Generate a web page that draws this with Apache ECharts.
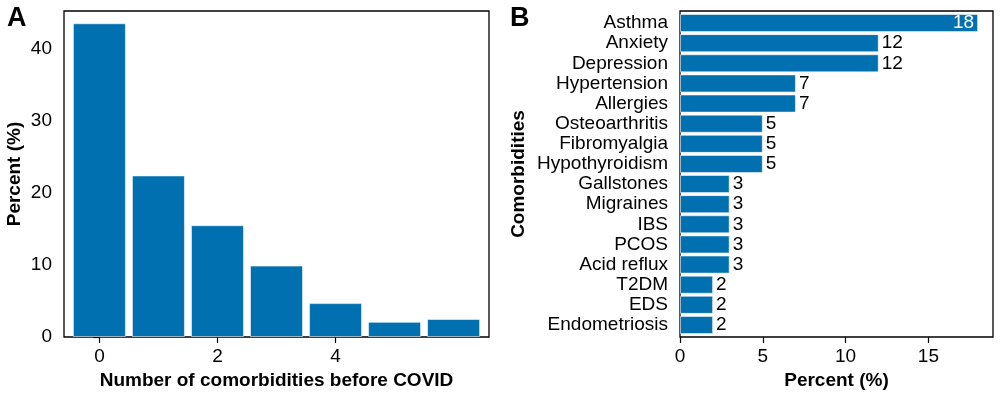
<!DOCTYPE html>
<html>
<head>
<meta charset="utf-8">
<script src="https://cdn.jsdelivr.net/npm/echarts@6/dist/echarts.min.js"></script>
<style>
html, body { margin: 0; padding: 0; background: #fff; }
#main { width: 1000px; height: 398px; }
</style>
</head>
<body>
<div id="main"></div>
<script>
// panel A: number of comorbidities before covid
var comorbidityCounts = [0, 1, 2, 3, 4, 5, 6];
var countPercents = [43.5, 22.4, 15.5, 9.9, 4.7, 2.1, 2.5];
var countTicks = [0, 2, 4];
var percentTicksA = [0, 10, 20, 30, 40];

// panel B: individual comorbidities
var conditions = ['Asthma', 'Anxiety', 'Depression', 'Hypertension', 'Allergies',
    'Osteoarthritis', 'Fibromyalgia', 'Hypothyroidism', 'Gallstones', 'Migraines',
    'IBS', 'PCOS', 'Acid reflux', 'T2DM', 'EDS', 'Endometriosis'];
var conditionPercents = [18, 12, 12, 7, 7, 5, 5, 5, 3, 3, 3, 3, 3, 2, 2, 2];
var percentTicksB = [0, 5, 10, 15];

var font = 'Liberation Sans, Arial, sans-serif';
var blue = '#0070B0';
var maxB = Math.max.apply(null, conditionPercents);

var dom = document.getElementById('main');
var myChart = echarts.init(dom);

var tickStyle = { show: true, length: 6, lineStyle: { color: '#000', width: 1.2 } };
var labelStyle = { color: '#000', fontSize: 19, fontFamily: font };
var nameStyle = { color: '#000', fontSize: 19, fontWeight: 'bold', fontFamily: font };
var frame = { show: true, borderColor: '#000', borderWidth: 1.3, backgroundColor: 'transparent' };

option = {
    animation: false,
    title: [
        { text: 'A', left: 7, top: 5, padding: 0, textStyle: { fontSize: 27, fontWeight: 'bold', fontFamily: font, color: '#000' } },
        { text: 'B', left: 510, top: 5, padding: 0, textStyle: { fontSize: 27, fontWeight: 'bold', fontFamily: font, color: '#000' } }
    ],
    grid: [
        Object.assign({ left: 64, top: 11, width: 425, height: 326 }, frame),
        Object.assign({ left: 680, top: 11, width: 313, height: 326 }, frame),
        { left: 680, top: 13, width: 313, height: 322, show: false }
    ],
    xAxis: [
        {
            gridIndex: 0, type: 'value', min: -0.6, max: 6.6,
            axisLine: { show: false }, splitLine: { show: false },
            axisTick: Object.assign({ customValues: countTicks }, tickStyle),
            axisLabel: Object.assign({ customValues: countTicks, margin: 10 }, labelStyle),
            name: 'Number of comorbidities before COVID', nameLocation: 'middle', nameGap: 34,
            nameTextStyle: nameStyle
        },
        {
            gridIndex: 1, type: 'value', min: 0, max: 18.9,
            axisLine: { show: false }, splitLine: { show: false },
            axisTick: Object.assign({ customValues: percentTicksB }, tickStyle),
            axisLabel: Object.assign({ customValues: percentTicksB, margin: 10 }, labelStyle),
            name: 'Percent (%)', nameLocation: 'middle', nameGap: 34,
            nameTextStyle: nameStyle
        },
        {
            gridIndex: 2, type: 'value', min: 0, max: 18.9, show: false
        }
    ],
    yAxis: [
        {
            gridIndex: 0, type: 'value', min: 0, max: 45.2,
            axisLine: { show: false }, splitLine: { show: false },
            axisTick: Object.assign({ customValues: percentTicksA }, tickStyle),
            axisLabel: Object.assign({ customValues: percentTicksA, margin: 12 }, labelStyle),
            name: 'Percent (%)', nameLocation: 'middle', nameGap: 40,
            nameTextStyle: nameStyle
        },
        {
            gridIndex: 1, type: 'value', min: 0, max: 1, show: false
        },
        {
            gridIndex: 2, type: 'category', data: conditions, inverse: true,
            axisLine: { show: false }, axisTick: { show: false }, splitLine: { show: false },
            axisLabel: Object.assign({ margin: 12, interval: 0 }, labelStyle),
            name: 'Comorbidities', nameLocation: 'middle', nameGap: 152,
            nameTextStyle: nameStyle
        }
    ],
    series: [
        {
            type: 'bar', xAxisIndex: 0, yAxisIndex: 0,
            barWidth: 53,
            itemStyle: { color: blue, borderColor: 'rgba(255,255,255,0.55)', borderWidth: 1 },
            data: comorbidityCounts.map(function (c, i) { return [c, countPercents[i]]; })
        },
        {
            type: 'bar', xAxisIndex: 2, yAxisIndex: 2,
            barWidth: '90%',
            itemStyle: { color: blue, borderColor: 'rgba(255,255,255,0.55)', borderWidth: 1 },
            label: {
                show: true, position: 'right', distance: 3,
                color: '#000', fontSize: 19, fontFamily: font
            },
            data: conditionPercents.map(function (v) {
                if (v === maxB) {
                    return { value: v, label: { position: 'insideRight', distance: 4, color: '#fff' } };
                }
                return v;
            })
        }
    ]
};

if (option && typeof option === "object") {
    myChart.setOption(option, true);
}
</script>
</body>
</html>
